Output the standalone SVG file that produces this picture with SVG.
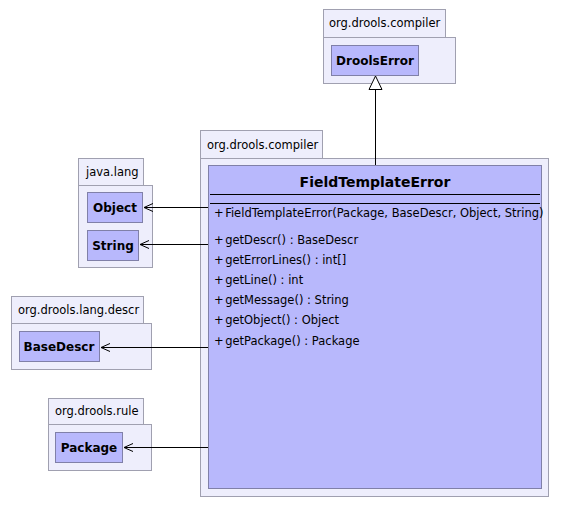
<svg xmlns="http://www.w3.org/2000/svg" width="561" height="508" viewBox="0 0 561 508">
  <defs>
    <marker id="open" markerWidth="12" markerHeight="12" refX="9" refY="5" orient="auto" markerUnits="userSpaceOnUse" viewBox="0 0 12 10">
      <path d="M0,1 L9,5 L0,9" fill="none" stroke="#000" stroke-width="1"/>
    </marker>
  </defs>
  <style>
    .pkg { fill: #eeeefc; stroke: #a0a0b0; stroke-width: 1; }
    .cls { fill: #b8b8fc; stroke: #8080a8; stroke-width: 1; }
    .ptxt { font-family: "DejaVu Sans", sans-serif; font-size: 11.5px; fill: #000; }
    .cname { font-family: "DejaVu Sans", sans-serif; font-size: 12px; font-weight: bold; fill: #000; }
    .title { font-family: "DejaVu Sans", sans-serif; font-size: 14px; font-weight: bold; fill: #000; }
    .mem { font-family: "DejaVu Sans", sans-serif; font-size: 11.5px; fill: #000; }
    .edge { fill: none; stroke: #000; stroke-width: 1; }
  </style>

  <!-- package org.drools.compiler (top) -->
  <g id="pkg-compiler-top">
    <rect class="pkg" x="323.5" y="9.5" width="122" height="28"/>
    <rect class="pkg" x="323.5" y="37.5" width="132" height="46"/>
    <text class="ptxt" x="329" y="27">org.drools.compiler</text>
  </g>
  <g id="DroolsError">
    <rect class="cls" x="331.5" y="45.5" width="87" height="30"/>
    <text class="cname" x="375" y="65" text-anchor="middle">DroolsError</text>
  </g>

  <!-- package org.drools.compiler (main) -->
  <g id="pkg-compiler-main">
    <rect class="pkg" x="200.5" y="130.5" width="122" height="28"/>
    <rect class="pkg" x="200.5" y="158.5" width="348" height="338"/>
    <text class="ptxt" x="207" y="149">org.drools.compiler</text>
  </g>
  <g id="FieldTemplateError">
    <rect class="cls" x="208.5" y="165.5" width="333" height="323"/>
    <text class="title" x="375" y="187" text-anchor="middle">FieldTemplateError</text>
    <line x1="210" y1="194.5" x2="540" y2="194.5" stroke="#000"/>
    <line x1="210" y1="203.5" x2="540" y2="203.5" stroke="#000"/>
    <text class="mem" x="214" y="217">+<tspan dx="1.5">FieldTemplateError(Package, BaseDescr, Object, String)</tspan></text>
    <text class="mem" x="214" y="244">+<tspan dx="1.5">getDescr() : BaseDescr</tspan></text>
    <text class="mem" x="214" y="264">+<tspan dx="1.5">getErrorLines() : int[]</tspan></text>
    <text class="mem" x="214" y="284">+<tspan dx="1.5">getLine() : int</tspan></text>
    <text class="mem" x="214" y="304">+<tspan dx="1.5">getMessage() : String</tspan></text>
    <text class="mem" x="214" y="324">+<tspan dx="1.5">getObject() : Object</tspan></text>
    <text class="mem" x="214" y="345">+<tspan dx="1.5">getPackage() : Package</tspan></text>
  </g>

  <!-- package java.lang -->
  <g id="pkg-java-lang">
    <rect class="pkg" x="78.5" y="158.5" width="65" height="27"/>
    <rect class="pkg" x="78.5" y="185.5" width="74" height="82"/>
    <text class="ptxt" x="86" y="176">java.lang</text>
  </g>
  <g id="Object">
    <rect class="cls" x="87.5" y="192.5" width="55" height="30"/>
    <text class="cname" x="115" y="212" text-anchor="middle">Object</text>
  </g>
  <g id="String">
    <rect class="cls" x="87.5" y="230.5" width="51" height="30"/>
    <text class="cname" x="113" y="250" text-anchor="middle">String</text>
  </g>

  <!-- package org.drools.lang.descr -->
  <g id="pkg-lang-descr">
    <rect class="pkg" x="11.5" y="296.5" width="132" height="27"/>
    <rect class="pkg" x="11.5" y="323.5" width="140" height="46"/>
    <text class="ptxt" x="18" y="314">org.drools.lang.descr</text>
  </g>
  <g id="BaseDescr">
    <rect class="cls" x="19.5" y="331.5" width="80" height="30"/>
    <text class="cname" x="59" y="351" text-anchor="middle">BaseDescr</text>
  </g>

  <!-- package org.drools.rule -->
  <g id="pkg-rule">
    <rect class="pkg" x="48.5" y="398.5" width="95" height="26"/>
    <rect class="pkg" x="48.5" y="424.5" width="103" height="46"/>
    <text class="ptxt" x="55" y="415">org.drools.rule</text>
  </g>
  <g id="Package">
    <rect class="cls" x="55.5" y="432.5" width="67" height="30"/>
    <text class="cname" x="89" y="452" text-anchor="middle">Package</text>
  </g>

  <!-- connectors -->
  <g id="connectors">
    <!-- generalization -->
    <line class="edge" x1="375.5" y1="165" x2="375.5" y2="89.5"/>
    <path d="M369,89.5 L375.5,76 L382,89.5 Z" fill="#fff" stroke="#000" stroke-width="1"/>
    <!-- dependencies -->
    <line class="edge" x1="208" y1="207.5" x2="144" y2="207.5" marker-end="url(#open)"/>
    <line class="edge" x1="208" y1="244.5" x2="140" y2="244.5" marker-end="url(#open)"/>
    <line class="edge" x1="208" y1="347.5" x2="101" y2="347.5" marker-end="url(#open)"/>
    <line class="edge" x1="208" y1="447.5" x2="124" y2="447.5" marker-end="url(#open)"/>
  </g>
</svg>
